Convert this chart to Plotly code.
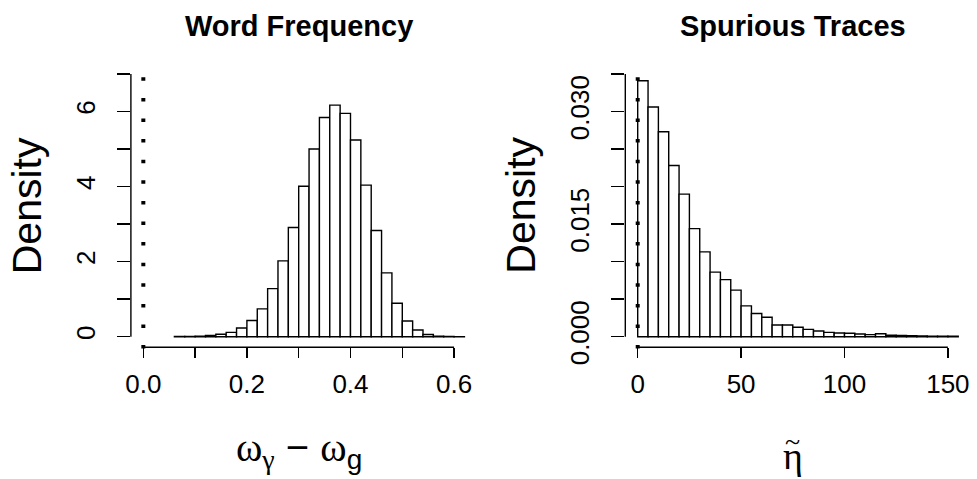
import plotly.graph_objects as go

# ---------------- data ----------------
# Word Frequency histogram (bin left edges, width 0.02)
wf_left_edges = [0.06, 0.08, 0.10, 0.12, 0.14, 0.16, 0.18, 0.20, 0.22, 0.24,
                 0.26, 0.28, 0.30, 0.32, 0.34, 0.36, 0.38, 0.40, 0.42, 0.44,
                 0.46, 0.48, 0.50, 0.52, 0.54, 0.56, 0.58, 0.60]
wf_bin_width = 0.02
wf_density = [0.004, 0.008, 0.015, 0.03, 0.065, 0.115, 0.23, 0.43, 0.74, 1.28,
              2.02, 2.91, 4.01, 5.00, 5.84, 6.17, 5.95, 5.24, 4.04, 2.83,
              1.70, 0.89, 0.42, 0.18, 0.06, 0.015, 0.007, 0.003]

# Spurious Traces histogram (bin left edges, width 5)
st_left_edges = [0, 5, 10, 15, 20, 25, 30, 35, 40, 45, 50, 55, 60, 65, 70, 75,
                 80, 85, 90, 95, 100, 105, 110, 115, 120, 125, 130, 135, 140,
                 145, 150]
st_bin_width = 5
st_density = [0.0341, 0.0306, 0.0273, 0.0228, 0.0190, 0.0144, 0.0113, 0.0086,
              0.0076, 0.0062, 0.0041, 0.0031, 0.0026, 0.00156, 0.00156,
              0.00125, 0.00098, 0.00076, 0.00058, 0.00050, 0.00045, 0.00036,
              0.00027, 0.00040, 0.00020, 0.00015, 0.00012, 0.00010, 0.00008,
              0.00006, 0.00005]

wf_xticks = [0.0, 0.1, 0.2, 0.3, 0.4, 0.5, 0.6]
wf_xlabels = ["0.0", "", "0.2", "", "0.4", "", "0.6"]
wf_yticks = [0, 1, 2, 3, 4, 5, 6, 7]
wf_ylabels = ["0", "", "2", "", "4", "", "6", ""]

st_xticks = [0, 50, 100, 150]
st_xlabels = ["0", "50", "100", "150"]
st_yticks = [0.000, 0.005, 0.010, 0.015, 0.020, 0.025, 0.030, 0.035]
st_ylabels = ["0.000", "", "", "0.015", "", "", "0.030", ""]

titles = ["Word Frequency", "Spurious Traces"]
ref_line_x = 0

# ---------------- layout geometry (px) ----------------
W, H = 977, 479
def px_x(p):
    return p / W
def px_y(p):
    return 1 - p / H

left_dom = [px_x(130.9), px_x(466.5)]
right_dom = [px_x(625.3), px_x(960.3)]
y_dom = [px_y(347.2), px_y(63.5)]

FONT = "Liberation Sans, Arial, Helvetica, sans-serif"
SERIF = "Liberation Serif, Times New Roman, serif"

fig = go.Figure()

def centers(edges, w):
    return [e + w / 2 for e in edges]

fig.add_trace(go.Bar(x=centers(wf_left_edges, wf_bin_width), y=wf_density,
                     width=wf_bin_width, xaxis="x", yaxis="y",
                     marker=dict(color="white", line=dict(color="black", width=1.4)),
                     showlegend=False, hoverinfo="skip"))
fig.add_trace(go.Bar(x=centers(st_left_edges, st_bin_width), y=st_density,
                     width=st_bin_width, xaxis="x2", yaxis="y2",
                     marker=dict(color="white", line=dict(color="black", width=1.4)),
                     showlegend=False, hoverinfo="skip"))

tickfont = dict(family=FONT, size=26, color="black")

def xax(dom, rng, tv, tt, anchor):
    return dict(domain=dom, range=rng, tickvals=tv, ticktext=tt, ticks="outside",
                ticklen=10, tickwidth=1.4, tickcolor="black", showline=False,
                showgrid=False, zeroline=False, tickfont=tickfont, automargin=False,
                ticklabelstandoff=4, fixedrange=True, anchor=anchor)

def yax(anchor, rng, tv, tt):
    return dict(domain=y_dom, range=rng, tickvals=tv, ticktext=tt, ticks="outside",
                ticklen=13, tickwidth=1.4, tickcolor="black", showline=False,
                showgrid=False, zeroline=False, tickfont=tickfont, tickangle=-90,
                ticklabelstandoff=12, anchor=anchor, fixedrange=True, automargin=False)

fig.update_layout(
    template="none",
    width=W, height=H,
    margin=dict(l=0, r=0, t=0, b=0, pad=0, autoexpand=False),
    paper_bgcolor="white", plot_bgcolor="white",
    barmode="overlay",
    xaxis=xax(left_dom, [-0.024, 0.624], wf_xticks, wf_xlabels, "y"),
    yaxis=yax("x", [-0.28, 7.28], wf_yticks, wf_ylabels),
    xaxis2=xax(right_dom, [-6, 156], st_xticks, st_xlabels, "y2"),
    yaxis2=yax("x2", [-0.0014, 0.0364], st_yticks, st_ylabels),
)

shapes = []
for xa, ya, xt, yt in [("x", "y", wf_xticks, wf_yticks), ("x2", "y2", st_xticks, st_yticks)]:
    # y axis line (R style: spans first to last tick)
    shapes.append(dict(type="line", xref=xa + " domain", yref=ya, x0=0, x1=0,
                       y0=yt[0], y1=yt[-1], line=dict(color="black", width=1.4)))
    # x axis line
    shapes.append(dict(type="line", xref=xa, yref=ya + " domain", x0=xt[0], x1=xt[-1],
                       y0=0, y1=0, line=dict(color="black", width=1.4)))
    # dotted reference line at 0
    shapes.append(dict(type="line", xref=xa, yref=ya + " domain", x0=ref_line_x,
                       x1=ref_line_x, y0=-0.005, y1=1, layer="above",
                       line=dict(color="black", width=4, dash="3.5px,17.1px")))
fig.update_layout(shapes=shapes)

ann = []
plot_centers = [(left_dom[0] + left_dom[1]) / 2, (right_dom[0] + right_dom[1]) / 2]
for c, t in zip(plot_centers, titles):
    ann.append(dict(text="<b>" + t + "</b>", x=c, y=px_y(26), xref="paper", yref="paper",
                    xanchor="center", yanchor="middle", showarrow=False,
                    font=dict(family=FONT, size=29, color="black")))
ymid = (y_dom[0] + y_dom[1]) / 2
for left in [left_dom[0], right_dom[0]]:
    ann.append(dict(text="Density", x=left - px_x(104), y=ymid, xref="paper", yref="paper",
                    xanchor="center", yanchor="middle", textangle=-90, showarrow=False,
                    font=dict(family=FONT, size=41, color="black")))
# x axis labels
ann.append(dict(text="<span style='font-family:Liberation Serif'>ω</span><sub><span style='font-family:Liberation Serif'>γ</span></sub> − "
                     "<span style='font-family:Liberation Serif'>ω</span><sub>g</sub>",
                x=plot_centers[0], y=px_y(450), xref="paper", yref="paper",
                xanchor="center", yanchor="middle", showarrow=False,
                font=dict(family=FONT, size=40, color="black")))
ann.append(dict(text="η", x=plot_centers[1], y=px_y(456), xref="paper", yref="paper",
                xanchor="center", yanchor="middle", showarrow=False, borderpad=0,
                font=dict(family=SERIF, size=38, color="black")))
ann.append(dict(text="~", x=plot_centers[1], y=px_y(441), xref="paper", yref="paper",
                xanchor="center", yanchor="middle", showarrow=False, borderpad=0,
                font=dict(family=SERIF, size=28, color="black")))
fig.update_layout(annotations=ann)

fig.write_html("out.html", config={"displayModeBar": False, "staticPlot": True},
               post_script="document.body.style.margin='0px';document.body.style.overflow='hidden';")
